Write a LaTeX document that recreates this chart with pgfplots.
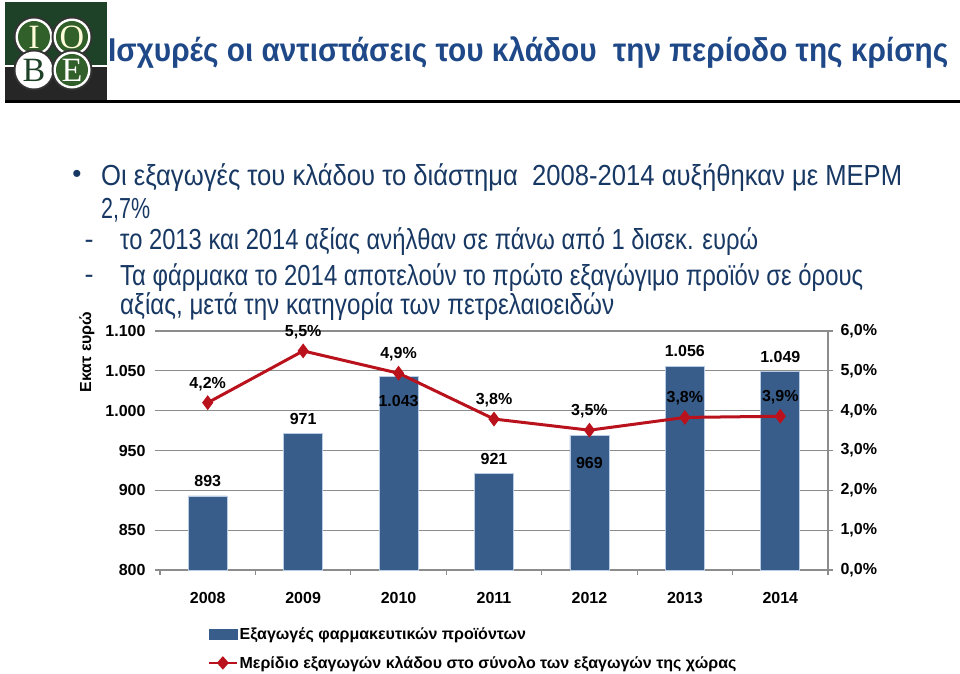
\documentclass[border=0pt]{standalone}
\usepackage{fontspec}
\setmainfont{Liberation Sans}
\newfontfamily\seriffont{Liberation Serif}
\usepackage{graphicx}
\usepackage{pgfplots}
\pgfplotsset{compat=1.18}
\usepackage{pgfplotstable}

\definecolor{barblue}{RGB}{56,93,138}
\definecolor{baredge}{RGB}{185,205,229}
\definecolor{linered}{RGB}{185,18,28}
\definecolor{titleblue}{RGB}{30,72,135}
\definecolor{textblue}{RGB}{24,56,100}
\definecolor{gridgray}{RGB}{140,140,140}
\definecolor{logogreen}{RGB}{30,66,40}
\definecolor{circgreen}{RGB}{50,96,42}

\newcommand\fs[1]{\fontsize{#1}{#1}\selectfont}

\pgfplotsset{/pgf/number format/assume math mode=true,
  lineleg/.style={legend image code/.code={%
    \draw[linered, line width=2.5pt] (0pt,0pt) -- (28pt,0pt);
    \fill[linered] (14pt,4.5pt) -- (18pt,0pt) -- (14pt,-4.5pt) -- (10pt,0pt) -- cycle;}},
  barleg/.style={legend image code/.code={\fill[barblue] (0pt,-5pt) rectangle (28pt,5pt);}},
}

% exports, million euro (dy = label offset)
\pgfplotstableread{
x y dy
0 893 15
1 971 15
2 1043 -25
3 921 15
4 969 -28
5 1056 15
6 1049 15
}\exports

% share of country exports, %
\pgfplotstableread{
x y
0 4.20
1 5.50
2 4.94
3 3.79
4 3.51
5 3.83
6 3.86
}\share

\begin{document}
\begin{tikzpicture}[x=1pt,y=1pt]
\path[use as bounding box] (0,0) rectangle (960,673);

% logo
\fill[logogreen] (5,671) rectangle (107,608);
\fill[black!85] (5,606) rectangle (107,573);
\foreach \cx/\cy/\l/\inner/\lc in {34/636/I/circgreen/white!85!yellow, 72/636/O/circgreen/white!85!yellow, 34/603/B/white/logogreen, 72/603/E/circgreen/white}{
  \fill[black!80] (\cx,\cy) circle (20.5pt);
  \fill[white] (\cx,\cy) circle (18.5pt);
  \fill[\inner] (\cx,\cy) circle (16pt);
  \node[text=\lc, inner sep=0] at (\cx,\cy) {\seriffont\fs{34}\l};
}
\fill[black] (5,573) rectangle (960,569.5);

% title
\node[anchor=base west, inner sep=0, text=titleblue] at (108,611)
  {\resizebox{840pt}{\height}{\fs{33}\bfseries Ισχυρές οι αντιστάσεις του κλάδου\ \ την περίοδο της κρίσης}};

% bullets
\node[text=textblue, inner sep=0] at (77,497) {\fs{26}•};
\node[anchor=base west, inner sep=0, text=textblue] at (101,487)
  {\resizebox{801pt}{\height}{\fs{29}Οι εξαγωγές του κλάδου το διάστημα\ \ 2008-2014 αυξήθηκαν με ΜΕΡΜ}};
\node[anchor=base west, inner sep=0, text=textblue] at (101,454)
  {\resizebox{49pt}{\height}{\fs{29}2,7\%}};
\node[text=textblue, inner sep=0] at (89,429) {\fs{27}-};
\node[anchor=base west, inner sep=0, text=textblue] at (120,423)
  {\resizebox{638pt}{\height}{\fs{29}το 2013 και 2014 αξίας ανήλθαν σε πάνω από 1 δισεκ. ευρώ}};
\node[text=textblue, inner sep=0] at (89,394) {\fs{27}-};
\node[anchor=base west, inner sep=0, text=textblue] at (120,388)
  {\resizebox{743pt}{\height}{\fs{29}Τα φάρμακα το 2014 αποτελούν το πρώτο εξαγώγιμο προϊόν σε όρους}};
\node[anchor=base west, inner sep=0, text=textblue] at (120,359)
  {\resizebox{494pt}{\height}{\fs{29}αξίας, μετά την κατηγορία των πετρελαιοειδών}};

% y axis title
\node[rotate=90, inner sep=0] at (87,321) {\bfseries\fs{16}Εκατ ευρώ};

\begin{axis}[
  at={(160pt,103pt)}, anchor=south west,
  width=668pt, height=239pt, scale only axis,
  xmin=-0.5, xmax=6.5, ymin=800, ymax=1100,
  ytick={800,850,...,1100},
  yticklabels={800,850,900,950,1.000,1.050,1.100},
  xtick={-0.5,0.5,...,6.5}, xticklabels={},
  extra x ticks={0,1,2,3,4,5,6},
  extra x tick labels={2008,2009,2010,2011,2012,2013,2014},
  extra x tick style={xtick style={draw=none}, xticklabel style={yshift=-14pt}},
  axis x line*=bottom, axis y line*=left,
  axis line style={-},
  y axis line style={draw=none},
  x axis line style={draw=gridgray, line width=1.2pt},
  ymajorgrids, grid style={gridgray, line width=1.2pt},
  tick align=outside, major tick length=5pt,
  tick style={draw=gridgray, line width=1.2pt},
  ticklabel style={font=\bfseries\fs{16}},
  yticklabel style={xshift=-6pt},
  ybar, bar width=39pt,
]
\addplot[fill=barblue, draw=baredge, line width=0.8pt,
  point meta=y,
  nodes near coords={\pgfmathprintnumber[1000 sep={.}]{\pgfplotspointmeta}},
  visualization depends on={\thisrow{dy}\as\dy},
  every node near coord/.append style={anchor=center, yshift=\dy*1pt, font=\bfseries\fs{16}, text=black},
] table[x=x, y=y] {\exports};
\end{axis}

\begin{axis}[
  at={(160pt,103pt)}, anchor=south west,
  width=668pt, height=239pt, scale only axis,
  xmin=-0.5, xmax=6.5, ymin=0, ymax=6,
  axis x line=none, axis y line*=right,
  axis line style={-},
  y axis line style={draw=gridgray, line width=1.2pt},
  ytick={0,1,...,6},
  yticklabels={{0,0\%},{1,0\%},{2,0\%},{3,0\%},{4,0\%},{5,0\%},{6,0\%}},
  tick align=outside, major tick length=5pt,
  ytick style={draw=gridgray, line width=1.2pt},
  yticklabel style={font=\bfseries\fs{16}, xshift=4pt},
  legend style={at={(0.071,-0.235)}, anchor=north west, draw=none, fill=none,
    font=\bfseries\fs{16}, row sep=12pt, inner sep=0pt, nodes={inner sep=1.5pt}},
  legend cell align=left,
]
\addlegendimage{barleg}
\addlegendentry{Εξαγωγές φαρμακευτικών προϊόντων}
\addplot[linered, line width=3pt, mark=diamond*, mark size=5pt,
  mark options={solid, fill=linered},
  point meta=y,
  nodes near coords={\pgfmathprintnumber[fixed, fixed zerofill, precision=1, use comma]{\pgfplotspointmeta}\%},
  every node near coord/.append style={anchor=center, yshift=19pt, font=\bfseries\fs{16}, text=black},
  lineleg,
] table[x=x, y=y] {\share};
\addlegendentry{Μερίδιο εξαγωγών κλάδου στο σύνολο των εξαγωγών της χώρας}
\end{axis}
\end{tikzpicture}
\end{document}
